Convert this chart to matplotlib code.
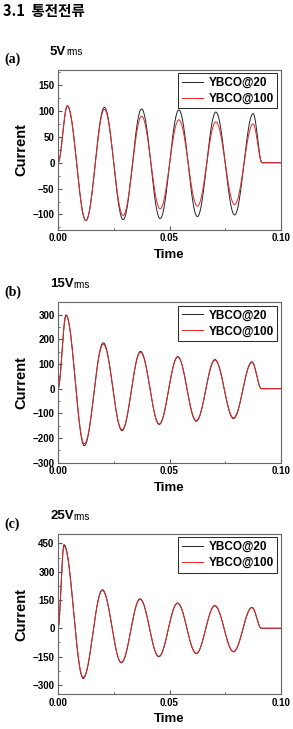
import numpy as np
import matplotlib
matplotlib.use("Agg")
import matplotlib.pyplot as plt
from matplotlib.ticker import AutoMinorLocator

plt.rcParams['font.family'] = ['Liberation Sans', 'Noto Sans CJK KR', 'DejaVu Sans']

# extrema of each waveform (time, current); 0 at start/end
t_a = [0, 0.0042, 0.0125, 0.0208, 0.0292, 0.0375, 0.0458, 0.0542, 0.0625, 0.0708, 0.0792, 0.0875, 0.0915]
a_20 = [0, 110, -112, 107, -110, 104, -108, 102, -104, 98, -101, 95, 0]
a_100 = [0, 110, -112, 103, -102, 90, -89, 83, -84, 79, -81, 75, 0]

t_b = [0, 0.0036, 0.0118, 0.0203, 0.0287, 0.0370, 0.0454, 0.0537, 0.0620, 0.0704, 0.0787, 0.0870, 0.0912]
b_20 = [0, 299, -231, 186, -170, 151, -145, 130, -132, 118, -121, 109, 0]
b_100 = [0, 295, -224, 180, -166, 147, -142, 128, -129, 115, -118, 106, 0]

t_c = [0, 0.0027, 0.0113, 0.0199, 0.0284, 0.0368, 0.0452, 0.0536, 0.0620, 0.0703, 0.0787, 0.0870, 0.0912]
c_20 = [0, 443, -265, 204, -183, 156, -151, 134, -134, 120, -125, 111, 0]
c_100 = [0, 436, -260, 200, -180, 153, -148, 132, -132, 118, -123, 109, 0]

panels = [
    ("(a)", "5V", t_a, a_20, a_100, (-130, 180), [-100, -50, 0, 50, 100, 150], 0.6845),
    ("(b)", "15V", t_b, b_20, b_100, (-300, 350), [-300, -200, -100, 0, 100, 200, 300], 0.3653),
    ("(c)", "25V", t_c, c_20, c_100, (-350, 500), [-300, -150, 0, 150, 300, 450], 0.0476),
]


def wave(tk, vk):
    # half-cosine segments between the read extrema, then flat to 0.1
    ts, vs = [], []
    for i in range(len(tk) - 1):
        s = np.linspace(0, 1, 40)
        ts.append(tk[i] + (tk[i + 1] - tk[i]) * s)
        vs.append(vk[i] + (vk[i + 1] - vk[i]) * (1 - np.cos(np.pi * s)) / 2)
    ts.append([tk[-1], 0.1])
    vs.append([0, 0])
    return np.concatenate(ts), np.concatenate(vs)


fig = plt.figure(figsize=(2.93, 7.29), dpi=100)
fig.text(3 / 293, 1 - 11 / 729, "3.1  통전전류", fontsize=10.5, fontweight='bold',
         family=['Noto Sans CJK KR', 'DejaVu Sans'], va='center', ha='left')

for tag, volt, tk, v20, v100, ylim, yticks, bottom in panels:
    ax = fig.add_axes([0.198, bottom, 0.761, 0.22])
    x, y = wave(tk, v20)
    ax.plot(x, y, color='#222222', lw=0.7, label='YBCO@20')
    x, y = wave(tk, v100)
    ax.plot(x, y, color='#e8262a', lw=0.7, label='YBCO@100')

    ax.set_xlim(0, 0.1)
    ax.set_ylim(*ylim)
    ax.set_xticks([0, 0.05, 0.1])
    ax.set_xticklabels(['0.00', '0.05', '0.10'])
    ax.set_yticks(yticks)
    ax.xaxis.set_minor_locator(AutoMinorLocator(2))
    ax.yaxis.set_minor_locator(AutoMinorLocator(2))
    ax.tick_params(which='both', direction='in', labelsize=7, color='#555555', pad=2.5)
    ax.tick_params(which='major', length=3)
    ax.tick_params(which='minor', length=1.5)
    for lab in ax.get_xticklabels() + ax.get_yticklabels():
        lab.set_fontweight('bold')
    for sp in ax.spines.values():
        sp.set_color('#666666')
        sp.set_linewidth(0.8)

    ax.set_xlabel('Time', fontsize=9.5, fontweight='bold', labelpad=4)
    ax.set_ylabel('Current', fontsize=10.5, fontweight='bold', labelpad=3)

    leg = ax.legend(loc='upper right', frameon=True, fancybox=False,
                    edgecolor='black', framealpha=1, handlelength=1.8,
                    handletextpad=0.5, borderpad=0.3, labelspacing=0.35,
                    borderaxespad=0.3, prop={'weight': 'bold', 'size': 8.5})
    leg.get_frame().set_linewidth(0.6)

    top_px = (1 - bottom - 0.22) * 729
    fig.text(4 / 293, 1 - (top_px - 10) / 729, tag, fontsize=10, fontweight='bold',
             family='Liberation Serif', va='center', ha='left')
    vt = fig.text(50 / 293, 1 - (top_px - 18) / 729, volt, fontsize=9.5, fontweight='bold',
                  va='center', ha='left')
    ax.annotate('rms', xy=(1, 0.45), xycoords=vt, fontsize=7, va='center', ha='left',
                annotation_clip=False)

fig.savefig('out.png', dpi=100)
